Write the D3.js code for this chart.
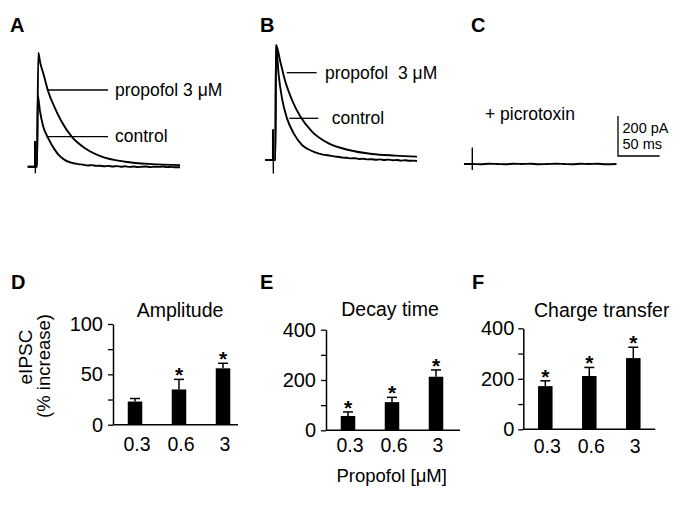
<!DOCTYPE html>
<html>
<head>
<meta charset="utf-8">
<script src="https://cdn.jsdelivr.net/npm/d3@7/dist/d3.min.js"></script>
<style>
  html, body { margin: 0; padding: 0; background: #fff; }
  svg { display: block; }
  text { font-family: Arial, "Liberation Sans", Helvetica, sans-serif; fill: #000; }
</style>
</head>
<body>
<svg id="chart" width="685" height="509"></svg>
<script>
// ---------------- DATA ----------------
// Traces: [time (ms from stimulus), current (pA)]
const traceAPropofol = [[-12,0],[-0.8,0],[0.7,570],[3,520],[6.7,467],[12.7,375],[20.8,292],[28.8,225],[40.8,150],[56.8,92],[76.8,50],[104.8,25],[136.8,13],[170.8,8]];
const traceAControl = [[-12,0],[-0.8,0],[0,358],[2.8,275],[6.7,200],[12.7,142],[20.8,83],[26,55],[32.8,33],[40,20],[48.8,13],[55,10],[60,6],[65,8],[70,4],[75,5],[80,2],[85,4],[90,1],[95,3],[100,0],[105,2],[110,-1],[115,1],[120,-2],[125,0],[130,1],[135,-2],[140,0],[145,-1],[150,1],[155,-2],[160,-1],[165,-3],[170.8,-3]];
const artifactA = [[-3.6,0],[-3.6,125],[-2.8,125],[-2.8,-33]];

const traceBPropofol = [[-13,0],[-0.8,0],[0,575],[5.2,491],[11.2,392],[19.2,300],[29.2,217],[43.2,142],[63.2,83],[87.2,50],[115.2,30],[143.2,22],[169.2,17]];
const traceBControl = [[-13,0],[-0.8,0],[0,575],[3.2,425],[7.2,308],[13.2,208],[21.2,133],[31.2,75],[38,55],[47.2,38],[55,28],[60,25],[65,22],[71.2,17],[76,15],[80,12],[85,11],[90,8],[95,9],[100,5],[105,6],[110,3],[115,4],[120,1],[125,3],[130,0],[135,2],[140,-1],[145,0],[150,-3],[155,-1],[160,-4],[165,-3],[169.2,-5]];
const artifactB = [[-4,0],[-4,150],[-3.2,150],[-3.2,-67]];

const traceCPicrotoxin = [[-10,0],[0,0],[10,-1],[20,1],[30,0],[40,-1],[50,1],[60,0],[70,1],[80,-1],[90,0],[100,1],[110,0],[120,-1],[130,1],[140,0],[150,1],[160,-1],[173,0]];
const artifactC = [[0,83],[0,-30]];

const scaleBarPA = 200;
const scaleBarMs = 50;

// Bar charts
const categories = ["0.3", "0.6", "3"];
const amplitudeMean = [23, 35, 56];
const amplitudeErr = [3, 10, 5];
const amplitudeSig = [false, true, true];
const decayMean = [57, 112, 213];
const decayErr = [16, 19, 27];
const decaySig = [true, true, true];
const chargeMean = [171, 211, 282];
const chargeErr = [21, 34, 43];
const chargeSig = [true, true, true];
const amplitudeTicks = [0, 25, 50, 75, 100];
const amplitudeTickLabels = [0, 50, 100];
const percentTicks = [0, 100, 200, 300, 400];
const percentTickLabels = [0, 200, 400];

// ---------------- DRAWING ----------------
const svg = d3.select("#chart");
const FONT = 'Arial, "Liberation Sans", Helvetica, sans-serif';

function txt(x, y, s, size, anchor, weight) {
  return svg.append("text")
    .attr("x", x).attr("y", y)
    .attr("font-size", size)
    .attr("text-anchor", anchor || "start")
    .attr("font-weight", weight || "normal")
    .text(s);
}

// Panel letters
[["A", 10, 32], ["B", 260, 32], ["C", 471, 32], ["D", 11, 289], ["E", 260, 289], ["F", 472, 289]]
  .forEach(([l, x, y]) => txt(x, y, l, 20, "start", "bold"));

// Trace panels: shared calibration (1.2 ms/px, 5 pA/px)
const msPerPx = 1.2, pAPerPx = 5;
function tracePanel(x0, y0, traces, artifact) {
  const x = d3.scaleLinear().domain([0, msPerPx * 100]).range([x0, x0 + 100]);
  const y = d3.scaleLinear().domain([0, pAPerPx * 100]).range([y0, y0 - 100]);
  const line = d3.line().x(d => x(d[0])).y(d => y(d[1])).curve(d3.curveMonotoneX);
  const lineLin = d3.line().x(d => x(d[0])).y(d => y(d[1]));
  const g = svg.append("g");
  traces.forEach(tr => g.append("path").attr("d", line(tr))
    .attr("fill", "none").attr("stroke", "#000").attr("stroke-width", 1.9).attr("stroke-linejoin", "round"));
  g.append("path").attr("d", lineLin(artifact))
    .attr("fill", "none").attr("stroke", "#000").attr("stroke-width", 1.4);
  return { x, y };
}

tracePanel(37.7, 166.7, [traceAControl, traceAPropofol], artifactA);
tracePanel(276, 160, [traceBControl, traceBPropofol], artifactB);
const sc = tracePanel(472.3, 164, [traceCPicrotoxin], artifactC);

// Trace labels with pointer lines
function pointer(x1, x2, y) {
  svg.append("line").attr("x1", x1).attr("x2", x2).attr("y1", y).attr("y2", y)
    .attr("stroke", "#000").attr("stroke-width", 1.3);
}
pointer(48, 108, 90);   txt(115, 96, "propofol 3 \u03BCM", 17.5);
pointer(46.7, 108, 136.7); txt(115, 142, "control", 17.5);
pointer(286.7, 316.7, 72.7); txt(325, 78.5, "propofol\u00A0 3 \u03BCM", 17.5);
pointer(289.3, 318.3, 118.3); txt(331.7, 124, "control", 17.5);
txt(485, 120, "+ picrotoxin", 17.5);

// Scale bar (uses panel C calibration)
{
  const bx = 618, by = 156;
  const len = Math.abs(sc.x(scaleBarMs) - sc.x(0));
  const hgt = Math.abs(sc.y(scaleBarPA) - sc.y(0));
  svg.append("path").attr("d", `M${bx},${by - hgt}V${by}H${bx + len}`)
    .attr("fill", "none").attr("stroke", "#000").attr("stroke-width", 1.3);
  txt(622.5, 132.5, "200 pA", 14.5);
  txt(622.5, 148.5, "50 ms", 14.5);
}

// Bar panels
function barPanel(cfg, means, errs, sig, ticks, tickLabels, title) {
  const y = d3.scaleLinear().domain([0, ticks[ticks.length - 1]]).range([cfg.bottom, cfg.bottom - cfg.height]);
  const x = d3.scalePoint().domain(categories).range([cfg.left + 22, cfg.left + 110]);
  const g = svg.append("g");
  const axis = d3.axisLeft(y).tickValues(ticks)
    .tickFormat(d => tickLabels.includes(d) ? d : "")
    .tickSize(5).tickSizeOuter(0).tickPadding(cfg.pad);
  const ag = g.append("g").attr("transform", `translate(${cfg.left},0)`).call(axis);
  ag.select(".domain").attr("stroke", "#000").attr("stroke-width", 1.5);
  ag.selectAll(".tick line").attr("stroke", "#000").attr("stroke-width", 1.3);
  ag.selectAll(".tick text").attr("font-size", 20).attr("font-family", FONT).attr("fill", "#000");
  g.append("line").attr("x1", cfg.left).attr("x2", cfg.left + cfg.width)
    .attr("y1", cfg.bottom).attr("y2", cfg.bottom).attr("stroke", "#000").attr("stroke-width", 1.5);
  const bw = 14.5;
  categories.forEach((c, i) => {
    const cx = x(c);
    const top = y(means[i]), et = y(means[i] + errs[i]);
    g.append("line").attr("x1", cx).attr("x2", cx).attr("y1", top).attr("y2", et)
      .attr("stroke", "#000").attr("stroke-width", 1.5);
    g.append("line").attr("x1", cx - 5).attr("x2", cx + 5).attr("y1", et).attr("y2", et)
      .attr("stroke", "#000").attr("stroke-width", 1.5);
    g.append("rect").attr("x", cx - bw / 2).attr("y", top).attr("width", bw)
      .attr("height", cfg.bottom - top).attr("fill", "#000");
    if (sig[i]) txt(cx, et + 3, "*", 21, "middle", "bold");
    txt(cx + 2, cfg.labelY, c, 19.5, "middle");
  });
  txt(cfg.titleX, cfg.titleY, title, 19.5, "middle");
}

barPanel({ left: 113, bottom: 424.7, height: 100.7, width: 125, pad: 5, labelY: 451, titleX: 180, titleY: 317 },
  amplitudeMean, amplitudeErr, amplitudeSig, amplitudeTicks, amplitudeTickLabels, "Amplitude");
barPanel({ left: 326, bottom: 430.3, height: 100.6, width: 134, pad: 5, labelY: 452, titleX: 390, titleY: 316 },
  decayMean, decayErr, decaySig, percentTicks, percentTickLabels, "Decay time");
barPanel({ left: 523.3, bottom: 429.3, height: 101, width: 132, pad: 4, labelY: 453, titleX: 601.7, titleY: 316.7 },
  chargeMean, chargeErr, chargeSig, percentTicks, percentTickLabels, "Charge transfer");

// Y axis label (rotated)
svg.append("text").attr("transform", "translate(32,357) rotate(-90)")
  .attr("text-anchor", "middle").attr("font-size", 19).text("eIPSC");
svg.append("text").attr("transform", "translate(50,366) rotate(-90)")
  .attr("text-anchor", "middle").attr("font-size", 18.5).text("(% increase)");

// X axis label
txt(391.7, 482, "Propofol [\u03BCM]", 18.5, "middle");
</script>
</body>
</html>
